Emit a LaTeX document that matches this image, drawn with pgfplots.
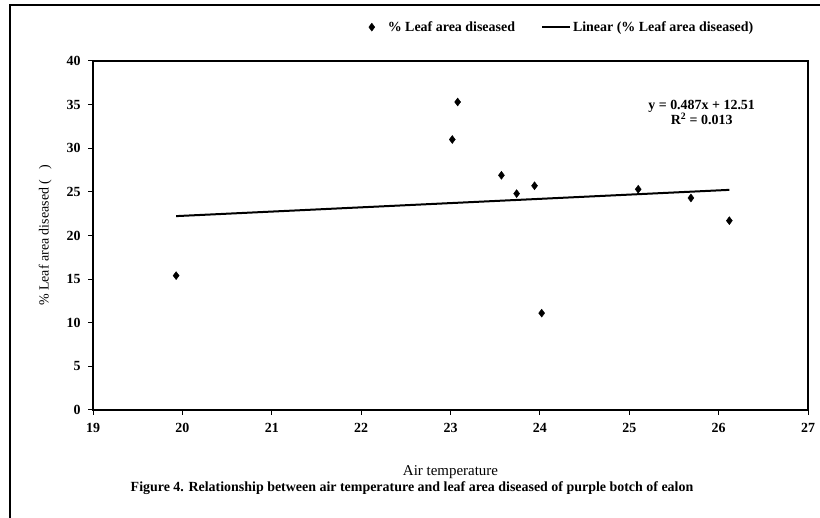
\documentclass[border=0pt]{standalone}
\usepackage{fontspec}
\setmainfont{Liberation Serif}
\usepackage{pgfplots}
\pgfplotsset{compat=1.18}
\pgfplotsset{
  diamleg/.style={legend image code/.code={\path[draw=none,fill=none] (-2bp,0bp) rectangle (14bp,0.1bp); \draw[##1] plot coordinates {(0bp,0bp)};}},
  lineleg/.style={legend image code/.code={\draw[##1] (0bp,0bp) -- (28bp,0bp);}},
}
\begin{document}
\begin{tikzpicture}[x=1bp,y=1bp]
\path[use as bounding box] (0,0) rectangle (820,518);
\draw[line width=1.5bp] (10,0) -- (10,513) -- (820,513);
\begin{axis}[
  at={(93bp,108bp)}, anchor=south west,
  scale only axis, width=715bp, height=349bp,
  xmin=19, xmax=27, ymin=0, ymax=40,
  xtick={19,...,27}, ytick={0,5,...,40},
  xtick pos=bottom, ytick pos=left,
  tick align=outside, major tick length=5bp,
  axis line style={line width=1.3bp},
  tick style={line width=1bp, black},
  every tick label/.append style={font=\fontsize{14}{16}\selectfont\bfseries},
  /pgf/number format/assume math mode=true,
  xticklabel style={yshift=-5bp},
  yticklabel style={xshift=-4bp},
  xlabel={Air temperature},
  xlabel style={font=\fontsize{15}{17}\selectfont, at={(axis description cs:0.5,-0.178)}, anchor=center},
  ylabel={\% Leaf area diseased (\hspace{10bp})},
  ylabel style={font=\fontsize{14}{16}\selectfont, at={(axis description cs:-0.067,0.5)}, anchor=center},
  legend columns=2,
  legend style={draw=none, fill=none, font=\fontsize{14}{16}\selectfont\bfseries,
    at={(axis description cs:0.656,1.097)}, anchor=center,
    /tikz/every even column/.append style={column sep=24bp}},
  legend cell align=left,
]
\addplot[only marks, mark=diamond*, mark size=4bp, black, diamleg] coordinates {
 (19.93,15.4) (23.02,31.0) (23.08,35.3) (23.57,26.9) (23.74,24.8)
 (23.94,25.7) (24.02,11.1) (25.10,25.3) (25.69,24.3) (26.12,21.7)
};
\addlegendentry{\% Leaf area diseased}
\addplot[black, line width=2bp, mark=none, lineleg] coordinates {(19.93,22.22) (26.12,25.23)};
\addlegendentry{Linear (\% Leaf area diseased)}
\node[font=\fontsize{14}{16}\selectfont\bfseries, align=center] at (axis cs:25.81,34.1)
  {y = 0.487x + 12.51\\R\textsuperscript{2} = 0.013};
\end{axis}
\node[font=\fontsize{14}{16}\selectfont\bfseries] at (412,30)
  {Figure 4. Relationship between air temperature and leaf area diseased of purple botch of ealon};
\end{tikzpicture}
\end{document}
